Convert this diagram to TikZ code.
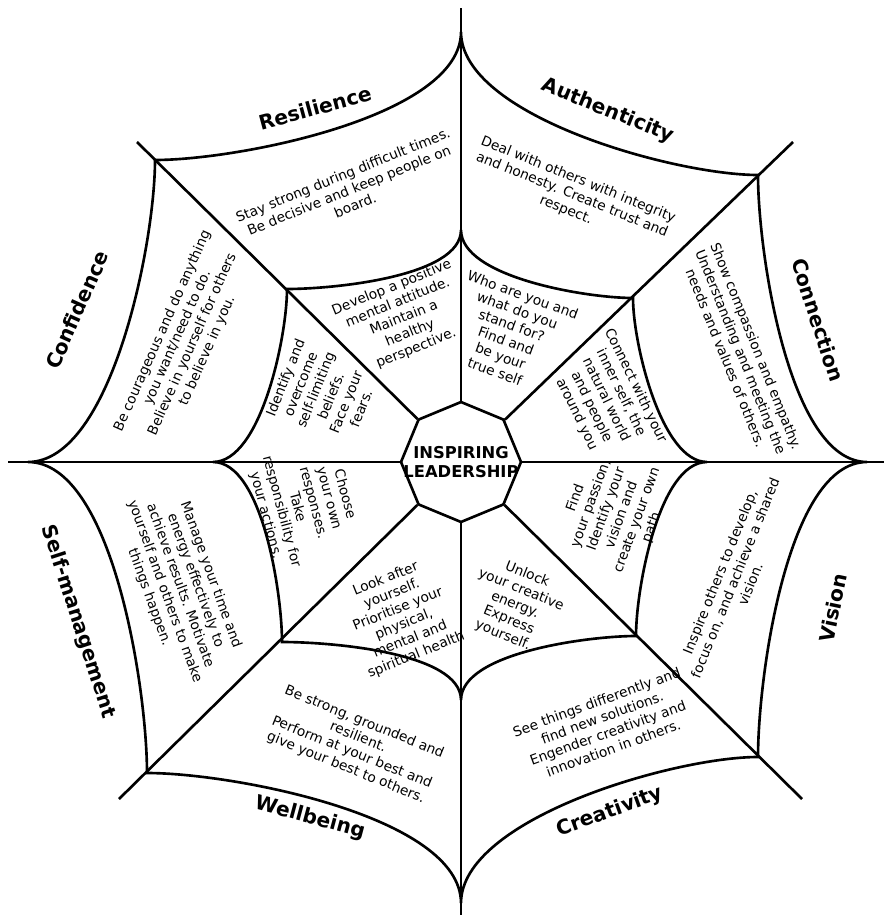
\documentclass[tikz,border=0pt]{standalone}
\usepackage{fontspec}
\setmainfont{DejaVu Sans}
\usetikzlibrary{shapes.geometric}
\tikzset {
    spoke/.style = {line width = 1.5pt},
    web/.style = {line width = 1.5pt, looseness = 0.65},
    hub/.style = {
        regular polygon,
        regular polygon sides = 8,
        shape border rotate = 22.5,
        draw, fill = white,
        line width = 1.5pt,
        minimum size = 2.4cm,
        inner sep = 0pt
    },
    hub text/.style = {font = \fontsize{9.3}{11}\selectfont\bfseries, align = center},
    title/.style = {font = \fontsize{11.5}{13}\selectfont\bfseries},
    blurb/.style = {font = \fontsize{7.8}{9.3}\selectfont, align = center, inner sep = 0pt},
}

\begin{document}
\begin{tikzpicture}[x = 0.02cm, y = -0.02cm]
    \useasboundingbox (0, 0) rectangle (887, 915);
    % spoke ends
    \coordinate (n-end) at (461, 8);
    \coordinate (ne-end) at (793, 142);
    \coordinate (e-end) at (884, 462);
    \coordinate (se-end) at (802, 799);
    \coordinate (s-end) at (461, 915);
    \coordinate (sw-end) at (119, 799);
    \coordinate (w-end) at (8, 462);
    \coordinate (nw-end) at (137, 142);
    % inner ring
    \coordinate (n-in) at (461, 230);
    \coordinate (ne-in) at (633, 298);
    \coordinate (e-in) at (707, 462);
    \coordinate (se-in) at (636, 636);
    \coordinate (s-in) at (461, 700);
    \coordinate (sw-in) at (282, 642);
    \coordinate (w-in) at (213, 462);
    \coordinate (nw-in) at (287, 289);
    % outer ring
    \coordinate (n-out) at (461, 32);
    \coordinate (ne-out) at (758, 175);
    \coordinate (e-out) at (867, 462);
    \coordinate (se-out) at (758, 757);
    \coordinate (s-out) at (461, 903);
    \coordinate (sw-out) at (147, 773);
    \coordinate (w-out) at (28, 462);
    \coordinate (nw-out) at (155, 160);

    \node (hub) [hub] at (461, 462) {};
    \node (hub-label) [hub text] at (hub) {INSPIRING\\LEADERSHIP};

    \foreach \d in {n, ne, e, se, s, sw, w, nw}
        \draw [spoke] (hub) -- (\d-end);

    \foreach \r in {in, out}
        \draw [web] (n-\r) to[out = -90, in = 180] (ne-\r)
            to[out = -90, in = 180] (e-\r)
            to[out = 180, in = 90] (se-\r)
            to[out = 180, in = 90] (s-\r)
            to[out = 90, in = 0] (sw-\r)
            to[out = 90, in = 0] (w-\r)
            to[out = 0, in = -90] (nw-\r)
            to[out = 0, in = -90] (n-\r);

    \node (resilience) [title, rotate = 15] at (315, 108) {Resilience};
    \node (resilience-out) [blurb, rotate = 22] at (349, 190) {Stay strong during difficult times.\\Be decisive and keep people on\\board.};
    \node (resilience-in) [blurb, rotate = 22] at (404, 318) {Develop a positive\\mental attitude.\\Maintain a\\healthy\\perspective.};

    \node (authenticity) [title, rotate = -22] at (608, 111) {Authenticity};
    \node (authenticity-out) [blurb, rotate = -22] at (572, 195) {Deal with others with integrity\\and honesty. Create trust and\\respect.};
    \node (authenticity-in) [blurb, rotate = -20] at (509, 333) {Who are you and\\what do you\\stand for?\\Find and\\be your\\true self};

    \node (connection) [title, rotate = -72] at (818, 320) {Connection};
    \node (connection-out) [blurb, rotate = -68] at (741, 352) {Show compassion and empathy.\\Understanding and meeting the\\needs and values of others.};
    \node (connection-in) [blurb, rotate = -64] at (606, 400) {Connect with your\\inner self, the\\natural world\\and people\\around you};

    \node (vision) [title, rotate = 78] at (833, 608) {Vision};
    \node (vision-out) [blurb, rotate = 68] at (735, 578) {Inspire others to develop,\\focus on, and achieve a shared\\vision.};
    \node (vision-in) [blurb, rotate = 70] at (614, 512) {Find\\your passion,\\Identify your\\vision and\\create your own\\path.};

    \node (creativity) [title, rotate = 20] at (610, 812) {Creativity};
    \node (creativity-out) [blurb, rotate = 20] at (605, 725) {See things differently and\\find new solutions.\\Engender creativity and\\innovation in others.};
    \node (creativity-in) [blurb, rotate = -22] at (515, 605) {Unlock\\your creative\\energy.\\Express\\yourself.};

    \node (wellbeing) [title, rotate = -15] at (310, 818) {Wellbeing};
    \node (wellbeing-out) [blurb, rotate = -22] at (355, 745) {Be strong, grounded and\\resilient.\\Perform at your best and\\give your best to others.};
    \node (wellbeing-in) [blurb, rotate = 22] at (401, 617) {Look after\\yourself.\\Prioritise your\\physical,\\mental and\\spiritual health};

    \node (selfmanagement) [title, rotate = -72] at (78, 622) {Self-management};
    \node (selfmanagement-out) [blurb, rotate = -70] at (180, 586) {Manage your time and\\energy effectively to\\achieve results. Motivate\\yourself and others to make\\things happen.};
    \node (selfmanagement-in) [blurb, rotate = -75] at (305, 505) {Choose\\your own\\responses.\\Take\\responsibility for\\your actions.};

    \node (confidence) [title, rotate = 66] at (77, 310) {Confidence};
    \node (confidence-out) [blurb, rotate = 66] at (185, 341) {Be courageous and do anything\\you want/need to do.\\Believe in yourself for others\\to believe in you.};
    \node (confidence-in) [blurb, rotate = 68] at (323, 393) {Identify and\\overcome\\self-limiting\\beliefs.\\Face your\\fears.};
\end{tikzpicture}
\end{document}
